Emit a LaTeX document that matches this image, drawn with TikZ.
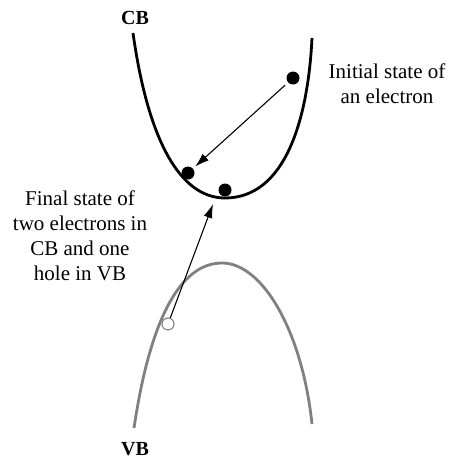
\documentclass[tikz,border=0pt]{standalone}
\usepackage{fontspec}
\setmainfont{Liberation Serif}
\usetikzlibrary{arrows.meta}

\begin{document}
\begin{tikzpicture}[x=1pt,y=-1pt,
    electron/.style={circle,fill=black,inner sep=0pt,minimum size=13pt},
    hole/.style={circle,draw=gray,line width=1.1pt,fill=white,inner sep=0pt,minimum size=12pt},
    jump/.style={-{Latex[length=14pt,width=9pt]},line width=1.1pt},
    lbl/.style={align=center,font=\fontsize{21}{25}\selectfont}]
  \useasboundingbox (0,0) rectangle (450,461);
  % bands
  \draw [line width=2.8pt] (133,33) .. controls (148,140) and (180,198) .. (225,198)
        .. controls (285,198) and (308,120) .. (312,38);
  \draw [gray,line width=2.8pt] (134,428) .. controls (150,320) and (180,263) .. (222,263)
        .. controls (262,263) and (302,330) .. (312,424);
  \node [font=\fontsize{20}{20}\selectfont\bfseries] (cb) at (135,18) {CB};
  \node [font=\fontsize{20}{20}\selectfont\bfseries] (vb) at (135,449) {VB};
  % carriers
  \node [electron] (e1) at (293,78) {};
  \node [electron] (e2) at (188,173) {};
  \node [electron] (e3) at (225,190) {};
  \node [hole] (h) at (168,324) {};
  \coordinate (tip) at (213,204);
  \draw [jump,shorten <=4pt,shorten >=3pt] (e1) -- (e2);
  \draw [jump] (h) -- (tip);
  % labels
  \node [lbl] (init) at (387,84) {Initial state of\\an electron};
  \node [lbl] (final) at (80,236) {Final state of\\two electrons in\\CB and one\\hole in VB};
\end{tikzpicture}
\end{document}
